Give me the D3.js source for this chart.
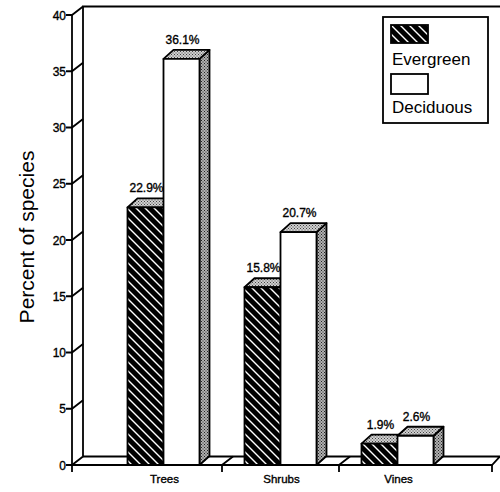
<!DOCTYPE html>
<html>
<head>
<meta charset="utf-8">
<script src="https://cdn.jsdelivr.net/npm/d3@7"></script>
<style>
  body { margin: 0; background: #fff; }
  svg { display: block; }
  text { font-family: "Liberation Sans", Arial, sans-serif; fill: #000; }
  .labelY, .valor, .cat { stroke: #000; stroke-width: 0.35px; }
</style>
</head>
<body>
<div id="grafica"></div>
<script>
// Datos
var categorias = ["Trees", "Shrubs", "Vines"];
var series = ["Evergreen", "Deciduous"];
var evergreen = [22.9, 15.8, 1.9];
var deciduous = [36.1, 20.7, 2.6];
var ticksY = [0, 5, 10, 15, 20, 25, 30, 35, 40];

var ancho = 500, alto = 492;
var ejeX = 72, finX = 492;       // piso frontal
var prof = { dx: 11, dy: -8.5 }; // profundidad de la pared
var barProf = { dx: 10, dy: -9 };

var svg = d3.select("#grafica")
    .append("svg")
    .attr("width", ancho)
    .attr("height", alto);

var defs = svg.append("defs");

// rayado blanco sobre negro
var hatch = defs.append("pattern")
    .attr("id", "hatch")
    .attr("patternUnits", "userSpaceOnUse")
    .attr("width", 9)
    .attr("height", 9);
hatch.append("rect").attr("width", 9).attr("height", 9).attr("fill", "#000");
hatch.append("path")
    .attr("d", "M0,0 L9,9 M-1,8 L1,10 M8,-1 L10,1")
    .attr("stroke", "#fff")
    .attr("stroke-width", 1.4);

// punteado gris para caras laterales y superiores
function punteado(id, fondo, punto) {
    var p = defs.append("pattern")
        .attr("id", id)
        .attr("patternUnits", "userSpaceOnUse")
        .attr("width", 3)
        .attr("height", 3);
    p.append("rect").attr("width", 3).attr("height", 3).attr("fill", fondo);
    p.append("rect").attr("x", 0).attr("y", 0).attr("width", 1).attr("height", 1).attr("fill", punto);
    p.append("rect").attr("x", 1.5).attr("y", 1.5).attr("width", 1).attr("height", 1).attr("fill", punto);
}
punteado("lado", "#b0b0b0", "#222");
punteado("tapa", "#d0d0d0", "#444");

var y = d3.scaleLinear()
    .domain([0, 40])
    .range([465, 15]);

var x = d3.scaleBand()
    .domain(categorias)
    .range([105, 456])
    .padding(0);

var xs = d3.scaleBand()
    .domain(series)
    .range([-36, 36]);

var base = y(0);
var g = svg.append("g")
    .attr("fill", "none")
    .attr("stroke", "#000")
    .attr("stroke-width", 1.8);

// piso
g.append("path")
    .attr("d", "M" + ejeX + "," + base + " L" + finX + "," + base +
        " L" + (finX + 8) + "," + (base + prof.dy) +
        " L" + (ancho + 5) + "," + (base + prof.dy) +
        " M" + (ejeX + prof.dx) + "," + (base + prof.dy) + " L" + (ancho + 5) + "," + (base + prof.dy));

// pared del fondo
g.append("path")
    .attr("d", "M" + (ejeX + prof.dx) + "," + (base + prof.dy) +
        " L" + (ejeX + prof.dx) + "," + (y(40) + prof.dy) +
        " L" + (ancho + 5) + "," + (y(40) + prof.dy));

// eje vertical
g.append("line")
    .attr("x1", ejeX).attr("x2", ejeX)
    .attr("y1", y(40)).attr("y2", base + 7);

// marcas del eje y
g.selectAll(".tickY")
    .data(ticksY)
    .enter()
    .append("path")
    .attr("class", "tickY")
    .attr("d", function(d) {
        return "M" + (ejeX - 6) + "," + y(d) + " L" + ejeX + "," + y(d) +
            " L" + (ejeX + prof.dx) + "," + (y(d) + prof.dy);
    });

svg.selectAll(".labelY")
    .data(ticksY)
    .enter()
    .append("text")
    .attr("class", "labelY")
    .attr("x", ejeX - 6)
    .attr("y", function(d) { return y(d) + 4.5; })
    .attr("text-anchor", "end")
    .attr("font-size", 12)
    .text(function(d) { return d; });

// divisiones del piso entre categorias
var cortes = [x("Shrubs"), x("Vines")];
g.selectAll(".corte")
    .data(cortes)
    .enter()
    .append("path")
    .attr("class", "corte")
    .attr("d", function(d) {
        return "M" + d + "," + (base + 7) + " L" + d + "," + base +
            " L" + (d + prof.dx) + "," + (base + prof.dy);
    });
g.append("line")
    .attr("x1", finX).attr("x2", finX)
    .attr("y1", base).attr("y2", base + 7);

// barras
var barras = [];
categorias.forEach(function(c, i) {
    barras.push({ cat: c, serie: "Evergreen", valor: evergreen[i] });
    barras.push({ cat: c, serie: "Deciduous", valor: deciduous[i] });
});

var bw = xs.bandwidth();
var barra = svg.selectAll(".barra")
    .data(barras)
    .enter()
    .append("g")
    .attr("class", "barra")
    .attr("stroke", "#000")
    .attr("stroke-width", 1.8)
    .attr("stroke-linejoin", "round");

barra.each(function(d) {
    var b = d3.select(this);
    var x0 = x(d.cat) + x.bandwidth() / 2 + xs(d.serie);
    var x1 = x0 + bw;
    var yt = y(d.valor);
    var ddx = barProf.dx, ddy = barProf.dy;
    // cara lateral
    b.append("path")
        .attr("d", "M" + x1 + "," + base + " L" + x1 + "," + yt +
            " L" + (x1 + ddx) + "," + (yt + ddy) + " L" + (x1 + ddx) + "," + (base + ddy) + "Z")
        .attr("fill", "url(#lado)");
    // cara superior
    b.append("path")
        .attr("d", "M" + x0 + "," + yt + " L" + (x0 + ddx) + "," + (yt + ddy) +
            " L" + (x1 + ddx) + "," + (yt + ddy) + " L" + x1 + "," + yt + "Z")
        .attr("fill", "url(#tapa)");
    // cara frontal
    b.append("rect")
        .attr("x", x0)
        .attr("y", yt)
        .attr("width", bw)
        .attr("height", base - yt)
        .attr("fill", d.serie == "Evergreen" ? "url(#hatch)" : "#fff");
});

svg.selectAll(".valor")
    .data(barras)
    .enter()
    .append("text")
    .attr("class", "valor")
    .attr("x", function(d) { return x(d.cat) + x.bandwidth() / 2 + xs(d.serie) + bw / 2 + 1; })
    .attr("y", function(d) { return y(d.valor) - 15; })
    .attr("text-anchor", "middle")
    .attr("font-size", 12)
    .text(function(d) { return d.valor.toFixed(1) + "%"; });

svg.selectAll(".cat")
    .data(categorias)
    .enter()
    .append("text")
    .attr("class", "cat")
    .attr("x", function(d) { return x(d) + x.bandwidth() / 2 + 1; })
    .attr("y", 483)
    .attr("text-anchor", "middle")
    .attr("font-size", 11.5)
    .text(function(d) { return d; });

// titulo del eje
svg.append("text")
    .attr("transform", "translate(34,237) rotate(-90)")
    .attr("text-anchor", "middle")
    .attr("font-size", 21)
    .text("Percent of species");

// leyenda
var ley = svg.append("g").attr("transform", "translate(383,17)");
ley.append("rect")
    .attr("width", 105).attr("height", 106)
    .attr("fill", "#fff").attr("stroke", "#000").attr("stroke-width", 1.8);
ley.selectAll(".muestra")
    .data(series)
    .enter()
    .append("rect")
    .attr("class", "muestra")
    .attr("x", 8)
    .attr("y", function(d, i) { return 8 + i * 49; })
    .attr("width", 37)
    .attr("height", function(d, i) { return i == 0 ? 18 : 20; })
    .attr("fill", function(d) { return d == "Evergreen" ? "url(#hatch)" : "#fff"; })
    .attr("stroke", "#000")
    .attr("stroke-width", 1.8);
ley.selectAll(".nombre")
    .data(series)
    .enter()
    .append("text")
    .attr("class", "nombre")
    .attr("x", 9)
    .attr("y", function(d, i) { return 48 + i * 48; })
    .attr("font-size", 17)
    .text(function(d) { return d; });
</script>
</body>
</html>
